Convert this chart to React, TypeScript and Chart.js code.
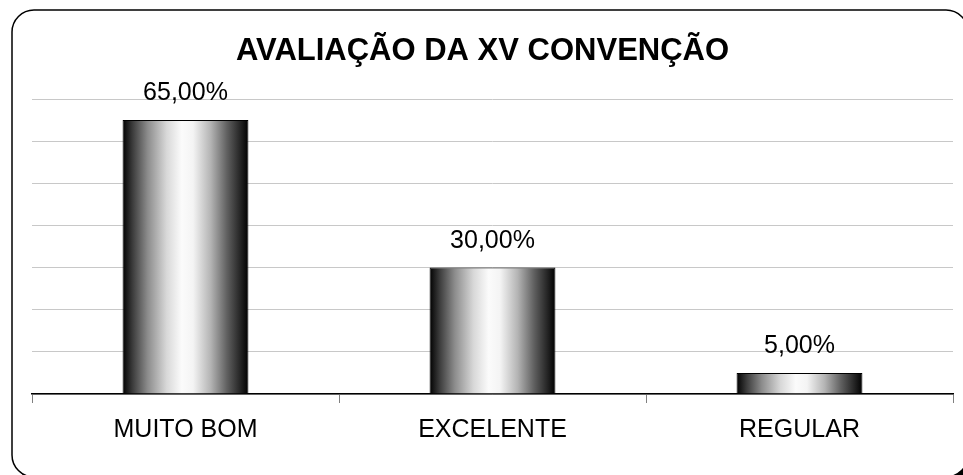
import React, { useEffect, useRef } from "react";
import { Chart, registerables } from "chart.js";

Chart.register(...registerables);

const categories = ["MUITO BOM", "EXCELENTE", "REGULAR"];
const values = [65, 30, 5];
const valueLabels = ["65,00%", "30,00%", "5,00%"];
const title = "AVALIAÇÃO DA XV CONVENÇÃO";
const yMax = 70;
const yStep = 10;

const FONT = "'Liberation Sans', Arial, sans-serif";

const framePlugin = {
  id: "frame",
  beforeDraw(chart: any) {
    const ctx = chart.ctx;
    const x = 12, y = 10, w = 956, h = 467, r = 22;
    ctx.save();
    // shadow
    ctx.fillStyle = "#000";
    ctx.beginPath();
    ctx.roundRect(x + 4, y + 4, w, h, r);
    ctx.fill();
    ctx.fillStyle = "#fff";
    ctx.beginPath();
    ctx.roundRect(x, y, w, h, r);
    ctx.fill();
    ctx.lineWidth = 1.5;
    ctx.strokeStyle = "#000";
    ctx.stroke();
    ctx.restore();
  },
  afterDraw(chart: any) {
    const ctx = chart.ctx;
    ctx.save();
    ctx.fillStyle = "#000";
    ctx.font = `bold 31px ${FONT}`;
    ctx.textAlign = "center";
    ctx.textBaseline = "alphabetic";
    ctx.fillText(title, 482.5, 60);
    // value labels
    const meta = chart.getDatasetMeta(0);
    ctx.font = `25px ${FONT}`;
    meta.data.forEach((bar: any, i: number) => {
      ctx.fillText(valueLabels[i], bar.x, bar.y - 20);
    });
    ctx.restore();
  },
};

function barGradient(context: any) {
  const chart = context.chart;
  const { ctx, chartArea } = chart;
  if (!chartArea) return "#888";
  const xs = chart.scales.x;
  const center = xs.getPixelForValue(context.dataIndex);
  const catW = (chartArea.right - chartArea.left) / categories.length;
  const bw = catW * 0.41;
  const g = ctx.createLinearGradient(center - bw / 2, 0, center + bw / 2, 0);
  g.addColorStop(0, "#000");
  g.addColorStop(0.08, "#3c3c3c");
  g.addColorStop(0.2, "#8c8c8c");
  g.addColorStop(0.35, "#d8d8d8");
  g.addColorStop(0.47, "#fbfbfb");
  g.addColorStop(0.56, "#f4f4f4");
  g.addColorStop(0.7, "#b4b4b4");
  g.addColorStop(0.83, "#606060");
  g.addColorStop(0.93, "#282828");
  g.addColorStop(1, "#000");
  return g;
}

export default function App() {
  const ref = useRef<HTMLCanvasElement>(null);
  useEffect(() => {
    const chart = new Chart(ref.current!, {
      type: "bar",
      data: {
        labels: categories,
        datasets: [
          {
            data: values,
            backgroundColor: barGradient,
            borderColor: "#000",
            borderWidth: 1,
            borderSkipped: "bottom",
            barPercentage: 0.41,
            categoryPercentage: 1,
          },
        ],
      },
      options: {
        responsive: false,
        animation: false,
        events: [],
        layout: { padding: { left: 32, right: 10, top: 99, bottom: 0 } },
        plugins: {
          legend: { display: false },
          title: { display: false },
          tooltip: { enabled: false },
        },
        scales: {
          x: {
            afterFit(scale: any) {
              scale.height = 81;
            },
            grid: {
              display: true,
              drawOnChartArea: false,
              tickLength: 9,
              color: "#808080",
              offset: true,
            },
            border: { display: true, color: "#000", width: 1.5 },
            ticks: {
              color: "#000",
              font: { family: FONT, size: 25 },
              padding: 12,
            },
          },
          y: {
            min: 0,
            max: yMax,
            afterFit(scale: any) {
              scale.width = 0;
            },
            ticks: { display: false, stepSize: yStep },
            grid: { color: "#c8c8c8", lineWidth: 1, drawTicks: false },
            border: { display: false },
          },
        },
      },
      plugins: [framePlugin],
    });
    return () => chart.destroy();
  }, []);
  return (
    <div style={{ position: "fixed", left: 0, top: 0, width: 963, height: 475, background: "#fff" }}>
      <canvas ref={ref} width={963} height={475} style={{ display: "block" }} />
    </div>
  );
}
